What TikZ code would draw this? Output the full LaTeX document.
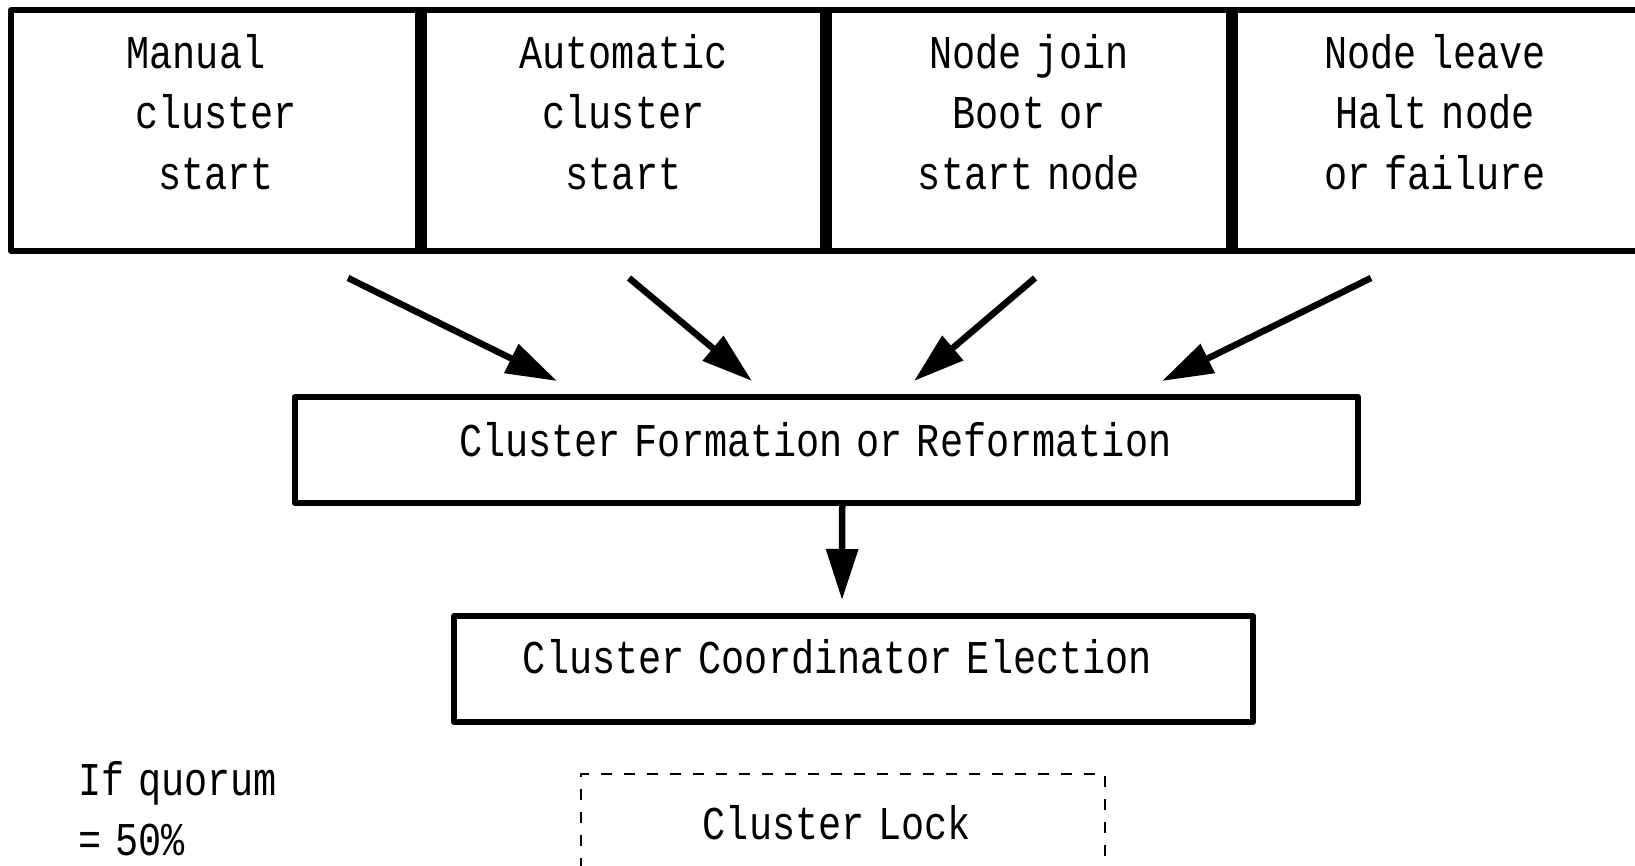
\documentclass[tikz,border=0pt]{standalone}
\usepackage{fontspec}
\setmainfont{Liberation Mono}[FakeStretch=0.82,WordSpace=0.6]
\usetikzlibrary{arrows.meta,calc}
\begin{document}
\begin{tikzpicture}[x=1pt,y=-1pt,line join=round,
  txt/.style={font=\fontsize{47}{60.5}\selectfont, inner sep=0pt, outer sep=0pt},
  topbox/.style={draw, line width=6pt, minimum height=241pt, inner sep=0pt, outer sep=0pt},
  toptext/.style={txt, align=center},
  procbox/.style={txt, draw, line width=6pt, minimum height=106pt, text height=34pt},
  lockbox/.style={txt, draw, line width=1.7pt, dash pattern=on 11pt off 12pt,
    minimum height=110pt, minimum width=524pt, text height=34pt, text depth=14pt},
  divider/.style={line width=12pt},
  flow/.style={line width=6.5pt, -{Triangle[length=51pt,width=31pt]}},
]
\useasboundingbox (0,0) rectangle (1635,866);
\clip (0,0) rectangle (1635,866);

% row of triggering events
\node[topbox, minimum width=410pt] (b1) at (216,130.5) {};
\node[topbox, minimum width=405pt] (b2) at (623.5,130.5) {};
\node[topbox, minimum width=406pt] (b3) at (1029,130.5) {};
\node[topbox, minimum width=406pt] (b4) at (1435,130.5) {};
\draw[divider] (b1.north east) -- (b1.south east);
\draw[divider] (b2.north east) -- (b2.south east);
\draw[divider] (b3.north east) -- (b3.south east);

\node[toptext] (l1) at (b1.center) [yshift=18.7pt] {Manual\hspace*{40pt}\\cluster\\start};
\node[toptext] (l2) at (b2.center) [yshift=18.7pt] {Automatic\\cluster\\start};
\node[toptext] (l3) at (b3.center) [yshift=18.7pt] {Node join\\Boot or\\start node};
\node[toptext] (l4) at (b4.center) [yshift=18.7pt] {Node leave\\Halt node\\or failure};

% processing steps
\node[procbox, minimum width=1063.5pt, text depth=20.6pt] (form) at (826.25,450)
  {Cluster Formation or Reformation\hspace*{22pt}};
\node[procbox, minimum width=799pt, text depth=26pt] (elect) at (853.5,669)
  {Cluster Coordinator Election\hspace*{32pt}};

\node[lockbox] (lock) at (843,829) {Cluster Lock\hspace*{12pt}};
\node[txt, align=left, anchor=north west] (quorum) at (78,761) {If quorum\\= 50\%};

% arrows from the events into the formation step
\coordinate (s1) at (348,278);  \coordinate (e1) at (557,381);
\coordinate (s2) at (629,278);  \coordinate (e2) at (752,381);
\coordinate (s3) at (1035,278); \coordinate (e3) at (914,381);
\coordinate (s4) at (1371,278); \coordinate (e4) at (1162,381);
\draw[flow] (s1) -- (e1);
\draw[flow] (s2) -- (e2);
\draw[flow] (s3) -- (e3);
\draw[flow] (s4) -- (e4);

\draw[flow] ($(form.south)+(16,0)$) -- ($(elect.north)+(-11.5,-16)$);
\end{tikzpicture}
\end{document}
